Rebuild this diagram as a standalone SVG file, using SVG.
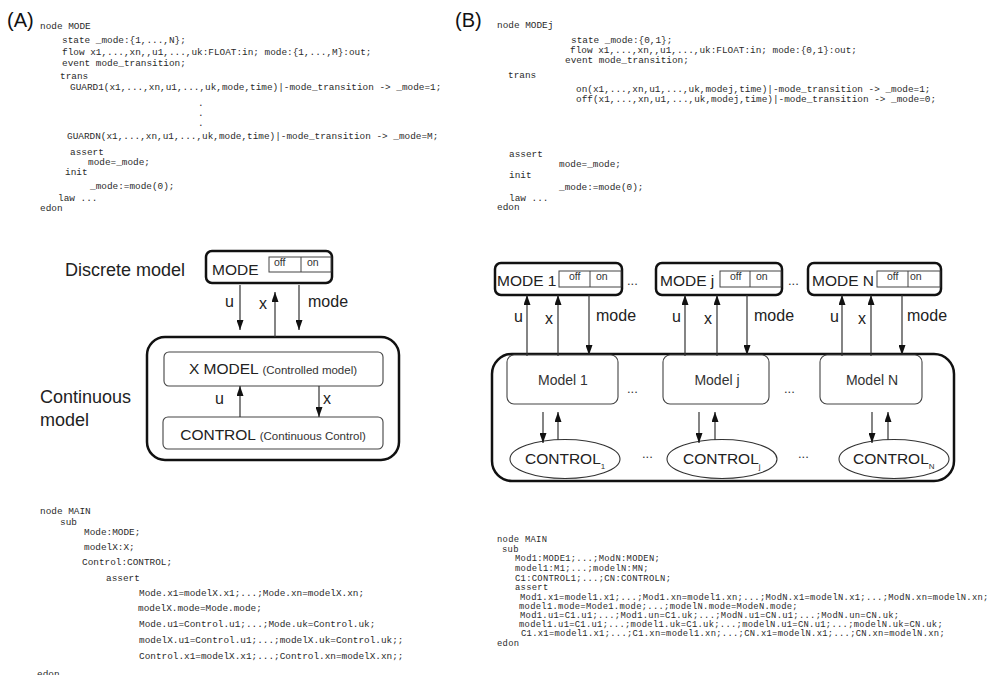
<svg xmlns="http://www.w3.org/2000/svg" width="995" height="675" viewBox="0 0 995 675">
  <defs>
    <marker id="arrow" viewBox="0 0 10 7" refX="10" refY="3.5" markerWidth="10" markerHeight="7" markerUnits="userSpaceOnUse" orient="auto">
      <path d="M0,0 L10,3.5 L0,7 z" fill="#111"/>
    </marker>
    <style>
      .code { font-family: "Liberation Mono", "DejaVu Sans Mono", monospace; font-size: 9.4px; fill: #2a2a2a; }
      .tight { font-size: 8.8px; letter-spacing: 0.3px; }
      .tag { font-family: "Liberation Sans", Arial, sans-serif; font-size: 20px; fill: #111; }
      .lbl { font-family: "Liberation Sans", Arial, sans-serif; font-size: 18px; fill: #222; }
      .sig { font-family: "Liberation Sans", Arial, sans-serif; font-size: 16px; fill: #222; }
      .name { font-family: "Liberation Sans", Arial, sans-serif; font-size: 15.5px; fill: #222; }
      .small { font-family: "Liberation Sans", Arial, sans-serif; font-size: 11.5px; fill: #333; }
      .sw { font-family: "Liberation Sans", Arial, sans-serif; font-size: 10.5px; fill: #333; }
      .mdl { font-family: "Liberation Sans", Arial, sans-serif; font-size: 14px; fill: #333; }
      .dots { font-family: "Liberation Sans", Arial, sans-serif; font-size: 13px; fill: #333; }
      .sub { font-family: "Liberation Sans", Arial, sans-serif; font-size: 8px; fill: #333; }
      .bold { fill: #fff; stroke: #111; stroke-width: 2.5; }
      .thin { fill: #fff; stroke: #444; stroke-width: 1.1; }
      .switch { fill: #fff; stroke: #444; stroke-width: 1; }
      .link { fill: none; stroke: #333; stroke-width: 1.2; marker-end: url(#arrow); }
    </style>
  </defs>
  <rect width="995" height="675" fill="#fff"/>

  <!-- panel tags -->
  <text class="tag" x="7" y="27">(A)</text>
  <text class="tag" x="455" y="27">(B)</text>

  <!-- AltaRica listing: single mode node -->
  <g id="code-mode">
    <text class="code" x="40" y="29">node MODE</text>
    <text class="code" x="62" y="43">state _mode:{1,...,N};</text>
    <text class="code" x="62" y="55">flow x1,...,xn,,u1,...,uk:FLOAT:in; mode:{1,...,M}:out;</text>
    <text class="code" x="62" y="66">event mode_transition;</text>
    <text class="code" x="60" y="79">trans</text>
    <text class="code" x="70" y="90">GUARD1(x1,...,xn,u1,...,uk,mode,time)|-mode_transition -&gt; _mode=1;</text>
    <text class="code" x="198" y="106">.</text>
    <text class="code" x="198" y="116">.</text>
    <text class="code" x="198" y="126">.</text>
    <text class="code" x="67" y="139">GUARDN(x1,...,xn,u1,...,uk,mode,time)|-mode_transition -&gt; _mode=M;</text>
    <text class="code" x="70" y="155">assert</text>
    <text class="code" x="88" y="165">mode=_mode;</text>
    <text class="code" x="65" y="175">init</text>
    <text class="code" x="90" y="189">_mode:=mode(0);</text>
    <text class="code" x="58" y="201">law ...</text>
    <text class="code" x="40" y="211">edon</text>
  </g>

  <!-- AltaRica listing: on/off mode node -->
  <g id="code-modej">
    <text class="code" x="497" y="28">node MODEj</text>
    <text class="code" x="571" y="43">state _mode:{0,1};</text>
    <text class="code" x="570" y="53">flow x1,...,xn,,u1,...,uk:FLOAT:in; mode:{0,1}:out;</text>
    <text class="code" x="565" y="63">event mode_transition;</text>
    <text class="code" x="508" y="78">trans</text>
    <text class="code" x="576" y="92">on(x1,...,xn,u1,...,uk,modej,time)|-mode_transition -&gt; _mode=1;</text>
    <text class="code" x="576" y="102">off(x1,...,xn,u1,...,uk,modej,time)|-mode_transition -&gt; _mode=0;</text>
    <text class="code" x="509" y="157">assert</text>
    <text class="code" x="559" y="167">mode=_mode;</text>
    <text class="code" x="509" y="178">init</text>
    <text class="code" x="559" y="190">_mode:=mode(0);</text>
    <text class="code" x="509" y="201">law ...</text>
    <text class="code" x="497" y="210">edon</text>
  </g>

  <!-- (A) hybrid model: one discrete mode over one continuous model -->
  <text class="lbl" x="65" y="276">Discrete model</text>
  <text class="lbl" x="40" y="403">Continuous</text>
  <text class="lbl" x="40" y="426">model</text>

  <g id="a-mode">
    <rect class="bold" x="206" y="251" width="126" height="32" rx="6"/>
    <text class="name" x="212" y="275">MODE</text>
    <rect class="switch" x="269" y="257" width="62" height="15"/>
    <line x1="301" y1="257" x2="301" y2="272" stroke="#444" stroke-width="1"/>
    <text class="sw" x="274" y="266">off</text>
    <text class="sw" x="307" y="266">on</text>
  </g>

  <g id="a-continuous">
    <rect class="bold" x="147" y="337" width="252" height="123" rx="18"/>
  </g>

  <g id="a-xmodel">
    <rect class="thin" x="164" y="352" width="219" height="34" rx="5"/>
    <text x="273" y="374" text-anchor="middle"><tspan class="name">X MODEL </tspan><tspan class="small">(Controlled model)</tspan></text>
  </g>

  <g id="a-control">
    <rect class="thin" x="163" y="417" width="220" height="32" rx="5"/>
    <text x="273" y="440" text-anchor="middle"><tspan class="name">CONTROL </tspan><tspan class="small">(Continuous Control)</tspan></text>
  </g>

  <g id="a-links">
    <line class="link" x1="240" y1="285" x2="240" y2="330"/>
    <line class="link" x1="275" y1="337" x2="275" y2="292"/>
    <line class="link" x1="299" y1="285" x2="299" y2="330"/>
    <line class="link" x1="240" y1="417" x2="240" y2="386"/>
    <line class="link" x1="319" y1="386" x2="319" y2="417"/>
    <text class="sig" x="225" y="307">u</text>
    <text class="sig" x="259" y="309">x</text>
    <text class="sig" x="308" y="307">mode</text>
    <text class="sig" x="215" y="404">u</text>
    <text class="sig" x="323" y="404">x</text>
  </g>

  <!-- (B) N on/off modes over N controlled models -->
  <g id="b-mode1">
    <rect class="bold" x="495" y="263" width="127" height="32" rx="6"/>
    <text class="name" x="497" y="286">MODE 1</text>
    <rect class="switch" x="559" y="271" width="62" height="16"/>
    <line x1="590" y1="271" x2="590" y2="287" stroke="#444" stroke-width="1"/>
    <text class="sw" x="569" y="280">off</text>
    <text class="sw" x="596" y="280">on</text>
  </g>
  <g id="b-modej">
    <rect class="bold" x="656" y="263" width="126" height="32" rx="6"/>
    <text class="name" x="660" y="286">MODE j</text>
    <rect class="switch" x="720" y="271" width="61" height="16"/>
    <line x1="750" y1="271" x2="750" y2="287" stroke="#444" stroke-width="1"/>
    <text class="sw" x="730" y="280">off</text>
    <text class="sw" x="756" y="280">on</text>
  </g>
  <g id="b-modeN">
    <rect class="bold" x="808" y="263" width="133" height="32" rx="6"/>
    <text class="name" x="812" y="286">MODE N</text>
    <rect class="switch" x="877" y="271" width="63" height="16"/>
    <line x1="908" y1="271" x2="908" y2="287" stroke="#444" stroke-width="1"/>
    <text class="sw" x="887" y="280">off</text>
    <text class="sw" x="910" y="280">on</text>
  </g>
  <text class="dots" x="627" y="285">...</text>
  <text class="dots" x="788" y="285">...</text>

  <g id="b-continuous">
    <rect class="bold" x="492" y="354" width="462" height="127" rx="20"/>
  </g>

  <g id="b-model1">
    <rect class="thin" x="507" y="355" width="111" height="49" rx="7"/>
    <text class="mdl" x="563" y="385" text-anchor="middle">Model 1</text>
  </g>
  <g id="b-modelj">
    <rect class="thin" x="663" y="355" width="106" height="49" rx="7"/>
    <text class="mdl" x="717" y="385" text-anchor="middle">Model j</text>
  </g>
  <g id="b-modelN">
    <rect class="thin" x="820" y="355" width="102" height="49" rx="7"/>
    <text class="mdl" x="872" y="385" text-anchor="middle">Model N</text>
  </g>
  <text class="dots" x="627" y="393">...</text>
  <text class="dots" x="784" y="393">...</text>

  <g id="b-control1">
    <ellipse cx="565" cy="459" rx="55" ry="19.5" fill="#fff" stroke="#333" stroke-width="1.1"/>
    <text class="name" x="525" y="464">CONTROL<tspan class="sub" dy="5">1</tspan></text>
  </g>
  <g id="b-controlj">
    <ellipse cx="722" cy="459" rx="55" ry="19.5" fill="#fff" stroke="#333" stroke-width="1.1"/>
    <text class="name" x="683" y="464">CONTROL<tspan class="sub" dy="5">j</tspan></text>
  </g>
  <g id="b-controlN">
    <ellipse cx="894" cy="459" rx="55" ry="19.5" fill="#fff" stroke="#333" stroke-width="1.1"/>
    <text class="name" x="853" y="464">CONTROL<tspan class="sub" dy="5">N</tspan></text>
  </g>
  <text class="dots" x="642" y="458">...</text>
  <text class="dots" x="798" y="458">...</text>

  <g id="b-links">
    <line class="link" x1="527" y1="356" x2="527" y2="295"/>
    <line class="link" x1="558" y1="356" x2="558" y2="295"/>
    <line class="link" x1="589" y1="295" x2="589" y2="355"/>
    <line class="link" x1="685" y1="356" x2="685" y2="295"/>
    <line class="link" x1="717" y1="356" x2="717" y2="295"/>
    <line class="link" x1="747" y1="295" x2="747" y2="355"/>
    <line class="link" x1="842" y1="356" x2="842" y2="295"/>
    <line class="link" x1="871" y1="356" x2="871" y2="295"/>
    <line class="link" x1="902" y1="295" x2="902" y2="355"/>
    <line class="link" x1="543" y1="412" x2="543" y2="443"/>
    <line class="link" x1="558" y1="440" x2="558" y2="412"/>
    <line class="link" x1="699" y1="412" x2="699" y2="443"/>
    <line class="link" x1="715" y1="440" x2="715" y2="412"/>
    <line class="link" x1="872" y1="412" x2="872" y2="443"/>
    <line class="link" x1="888" y1="440" x2="888" y2="412"/>
    <text class="sig" x="514" y="322">u</text>
    <text class="sig" x="545" y="324">x</text>
    <text class="sig" x="596" y="321">mode</text>
    <text class="sig" x="672" y="322">u</text>
    <text class="sig" x="704" y="324">x</text>
    <text class="sig" x="754" y="321">mode</text>
    <text class="sig" x="830" y="322">u</text>
    <text class="sig" x="858" y="324">x</text>
    <text class="sig" x="907" y="321">mode</text>
  </g>

  <!-- AltaRica listing: main node for (A) -->
  <g id="code-main-a">
    <text class="code" x="40" y="514">node MAIN</text>
    <text class="code" x="60" y="525">sub</text>
    <text class="code" x="84" y="535">Mode:MODE;</text>
    <text class="code" x="84" y="550">modelX:X;</text>
    <text class="code" x="82" y="565">Control:CONTROL;</text>
    <text class="code" x="106" y="581">assert</text>
    <text class="code" x="139" y="596">Mode.x1=modelX.x1;...;Mode.xn=modelX.xn;</text>
    <text class="code" x="138" y="611">modelX.mode=Mode.mode;</text>
    <text class="code" x="139" y="627">Mode.u1=Control.u1;...;Mode.uk=Control.uk;</text>
    <text class="code" x="139" y="643">modelX.u1=Control.u1;...;modelX.uk=Control.uk;;</text>
    <text class="code" x="139" y="659">Control.x1=modelX.x1;...;Control.xn=modelX.xn;;</text>
    <text class="code" x="37" y="677">edon</text>
  </g>

  <!-- AltaRica listing: main node for (B) -->
  <g id="code-main-b">
    <text class="code tight" x="497" y="542">node MAIN</text>
    <text class="code tight" x="502" y="552">sub</text>
    <text class="code tight" x="515" y="561">Mod1:MODE1;...;ModN:MODEN;</text>
    <text class="code tight" x="515" y="571">model1:M1;...;modelN:MN;</text>
    <text class="code tight" x="515" y="581">C1:CONTROL1;...;CN:CONTROLN;</text>
    <text class="code tight" x="515" y="590">assert</text>
    <text class="code tight" x="520" y="600">Mod1.x1=model1.x1;...;Mod1.xn=model1.xn;...;ModN.x1=modelN.x1;...;ModN.xn=modelN.xn;</text>
    <text class="code tight" x="519" y="609">model1.mode=Mode1.mode;...;modelN.mode=ModeN.mode;</text>
    <text class="code tight" x="520" y="618">Mod1.u1=C1.u1;...;Mod1.un=C1.uk;...;ModN.u1=CN.u1;...;ModN.un=CN.uk;</text>
    <text class="code tight" x="519" y="627">model1.u1=C1.u1;...;model1.uk=C1.uk;...;modelN.u1=CN.u1;...;modelN.uk=CN.uk;</text>
    <text class="code tight" x="521" y="636">C1.x1=model1.x1;...;C1.xn=model1.xn;...;CN.x1=modelN.x1;...;CN.xn=modelN.xn;</text>
    <text class="code tight" x="497" y="646">edon</text>
  </g>
</svg>
